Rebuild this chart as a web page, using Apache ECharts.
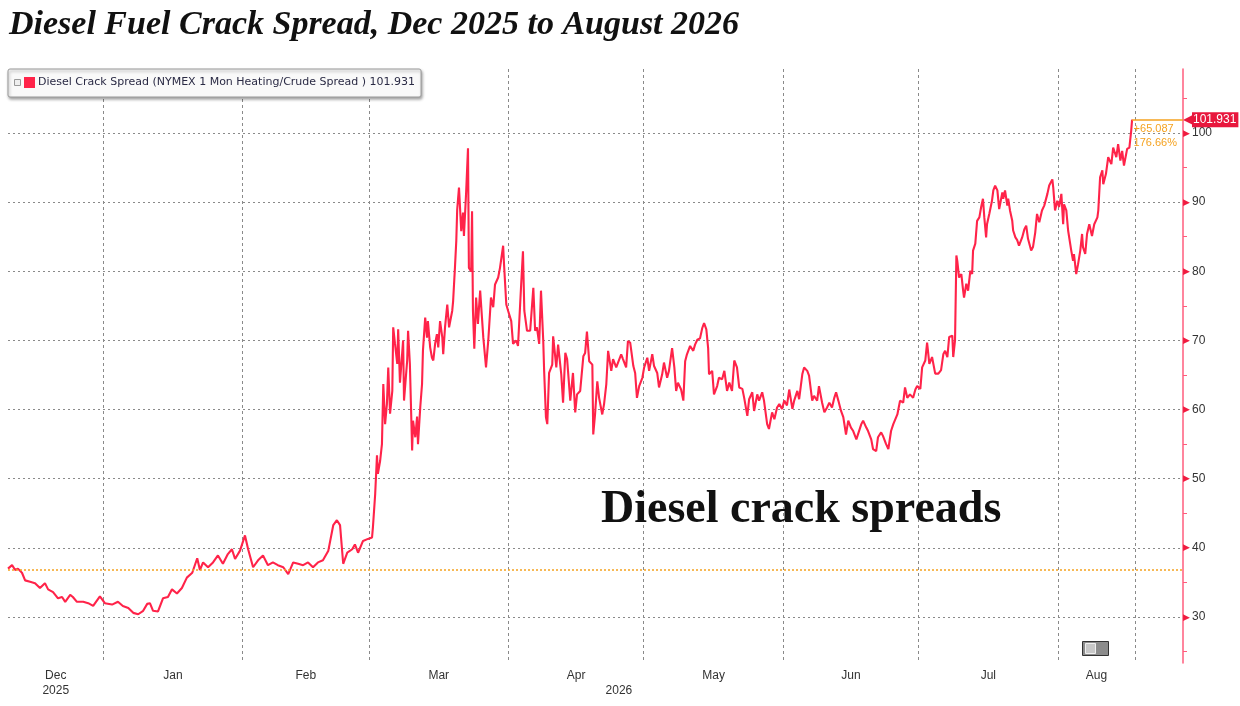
<!DOCTYPE html>
<html>
<head>
<meta charset="utf-8">
<title>Diesel Fuel Crack Spread</title>
<script src="https://cdn.jsdelivr.net/npm/echarts@6.0.0/dist/echarts.min.js"></script>
<style>
    html, body { margin: 0; padding: 0; background: #fff; }
    #main { width: 1240px; height: 706px; }
</style>
</head>
<body>
<div id="main"></div>
<script>
    // days counted from 1 Dec 2025
    var days = [
        9.9, 10.8, 11.5, 12.1, 13.0, 13.7, 14.8, 15.9, 17.0, 18.1, 18.8, 19.9, 21.0, 21.9, 22.6, 23.7, 24.3, 25.2, 26.6, 27.7,
        28.8, 30.3, 31.4, 33.0, 34.3, 35.4, 36.6, 37.7, 38.8, 39.9, 40.8, 41.4, 42.1, 43.2, 44.3, 45.4, 46.3, 47.4, 48.5, 49.6,
        50.8, 51.9, 52.5, 53.2, 54.3, 55.4, 56.5, 57.6, 58.7, 59.6, 60.3, 61.4, 62.5, 63.2, 64.3, 65.4, 66.5, 67.6, 68.7, 69.8,
        71.0, 72.1, 73.2, 74.3, 75.4, 76.5, 77.6, 78.7, 79.8, 81.0, 82.1, 82.9, 83.6, 84.3, 85.2, 86.3, 86.9, 87.6, 88.7, 89.8,
        90.7, 90.9, 91.4, 91.8, 92.0, 92.5, 92.9, 93.2, 93.6, 94.0, 94.3, 94.7, 95.2, 95.4, 95.8, 96.3, 96.5, 96.9, 97.6, 97.8,
        98.5, 98.7, 99.1, 99.6, 99.8, 100.3, 100.7, 100.9, 101.4, 101.8, 102.0, 102.5, 102.9, 103.1, 103.6, 104.0, 104.3, 104.7, 105.1, 105.4,
        105.8, 106.3, 106.5, 106.9, 107.4, 107.8, 108.5, 108.7, 109.1, 109.4, 109.6, 110.0, 110.5, 110.9, 111.1, 111.6, 112.0, 112.2, 112.7, 112.9,
        113.1, 113.4, 113.8, 114.2, 114.7, 115.1, 115.4, 116.0, 116.5, 117.1, 117.6, 118.0, 118.7, 119.1, 119.8, 120.0, 120.5, 120.9, 121.6, 122.0,
        122.7, 123.1, 123.8, 124.2, 124.5, 125.1, 125.8, 126.5, 126.9, 127.3, 127.8, 128.2, 128.7, 128.9, 129.3, 129.6, 130.0, 130.7, 130.9, 131.6,
        132.0, 132.7, 133.1, 133.6, 134.0, 134.7, 135.3, 135.8, 136.2, 136.9, 137.6, 138.0, 138.4, 138.9, 139.6, 139.8, 140.2, 140.7, 141.1, 141.8,
        142.2, 142.7, 143.1, 143.8, 144.2, 144.9, 145.3, 146.0, 146.4, 147.1, 147.5, 148.0, 148.7, 149.1, 149.5, 150.0, 150.7, 151.1, 151.8, 152.2,
        152.9, 153.3, 154.0, 154.4, 155.1, 155.5, 156.2, 156.6, 157.3, 157.8, 158.2, 158.6, 159.3, 159.8, 160.2, 160.6, 161.3, 162.0, 162.4, 162.9,
        163.5, 164.0, 164.4, 164.9, 165.3, 165.5, 166.2, 166.6, 167.3, 167.7, 168.4, 168.9, 169.5, 170.0, 170.6, 171.1, 171.7, 172.2, 172.9, 173.3,
        174.0, 174.4, 175.1, 175.5, 176.2, 176.6, 177.3, 177.7, 178.4, 178.8, 179.5, 180.0, 180.6, 181.1, 181.7, 182.2, 182.8, 183.3, 184.0, 184.4,
        185.1, 185.5, 186.2, 186.6, 187.3, 187.7, 188.4, 188.8, 189.5, 189.9, 190.6, 191.1, 191.7, 192.2, 192.8, 193.3, 193.7, 194.2, 194.8, 195.3,
        195.9, 196.4, 197.0, 197.5, 198.2, 198.6, 199.3, 199.7, 200.4, 200.8, 201.5, 201.9, 202.6, 203.0, 203.7, 204.1, 204.8, 205.3, 205.9, 206.4,
        206.8, 207.3, 207.9, 208.6, 209.0, 209.5, 210.1, 210.8, 211.3, 211.7, 212.4, 212.8, 213.5, 213.9, 214.4, 215.0, 215.7, 216.4, 217.0, 217.5,
        217.9, 218.4, 218.8, 219.5, 219.7, 220.1, 220.4, 220.6, 221.0, 221.5, 221.9, 222.1, 222.6, 223.0, 223.5, 223.9, 224.1, 224.6, 225.0, 225.5,
        225.9, 226.3, 226.6, 227.0, 227.2, 227.7, 228.3, 228.6, 229.0, 229.5, 229.9, 230.6, 230.8, 231.2, 231.7, 231.9, 232.3, 232.8, 233.0, 233.5,
        233.9, 234.3, 235.0, 235.5, 235.9, 236.3, 237.0, 237.4, 237.9, 238.3, 238.8, 239.4, 239.9, 240.6, 241.0, 241.7, 241.9, 242.3, 242.8, 243.2,
        243.7, 244.1, 244.3, 244.8, 245.2, 245.9, 246.3, 246.5, 247.0, 247.4, 247.9, 248.3, 248.5, 249.0, 249.4, 249.9, 250.5, 251.0, 251.7, 251.9,
        252.3, 252.8, 253.0, 253.6, 254.1, 254.8, 255.2, 255.9, 256.3, 256.8, 257.2, 257.6, 258.3, 258.8, 259.2, 259.4
    ];
    var spread = [
        37.0, 37.5, 36.8, 37.0, 36.4, 35.3, 35.1, 34.9, 34.2, 34.9, 34.0, 33.6, 32.7, 32.9, 32.2, 33.2, 32.9, 32.2, 32.2, 32.0,
        31.6, 33.0, 32.0, 31.8, 32.2, 31.6, 31.3, 30.6, 30.4, 30.9, 31.9, 32.0, 30.9, 30.8, 32.7, 32.9, 34.0, 33.4, 34.2, 35.7,
        36.4, 38.5, 36.8, 37.9, 37.2, 37.9, 38.9, 37.7, 39.1, 39.8, 38.4, 39.6, 41.8, 39.8, 37.2, 38.2, 38.9, 37.5, 37.9, 37.5,
        37.2, 36.2, 37.9, 37.7, 37.5, 37.9, 37.2, 37.9, 38.2, 39.6, 43.3, 44.0, 43.3, 37.7, 39.3, 39.8, 40.5, 39.3, 41.0, 41.3,
        41.5, 43.0, 47.8, 53.4, 50.7, 52.6, 55.0, 63.7, 57.9, 60.8, 66.1, 59.4, 62.7, 71.9, 69.5, 66.6, 71.6, 63.9, 70.0, 61.3,
        67.1, 71.4, 66.6, 54.1, 58.4, 56.0, 59.0, 55.0, 60.3, 63.7, 68.5, 73.3, 70.4, 72.8, 69.0, 67.5, 67.1, 69.5, 70.9, 69.0,
        72.8, 70.4, 68.0, 71.9, 75.2, 71.9, 74.3, 75.7, 80.5, 84.4, 88.9, 92.1, 85.8, 88.5, 85.1, 91.6, 97.8, 80.5, 80.0, 88.7,
        74.3, 68.8, 76.2, 72.4, 77.2, 73.3, 70.4, 66.1, 70.0, 76.2, 74.8, 78.1, 79.1, 80.5, 83.7, 81.0, 75.2, 74.3, 72.8, 69.5,
        70.0, 69.2, 78.1, 82.9, 74.3, 71.4, 71.4, 77.6, 71.4, 71.9, 69.5, 77.2, 70.0, 65.6, 58.9, 57.9, 65.3, 66.5, 70.6, 66.1,
        69.4, 65.1, 61.0, 68.2, 67.3, 61.3, 65.3, 59.6, 62.2, 62.7, 67.7, 68.2, 71.3, 67.0, 66.5, 56.4, 59.3, 64.1, 61.7, 59.3,
        60.8, 63.7, 68.5, 65.6, 67.3, 66.1, 66.8, 68.0, 67.3, 66.1, 69.9, 69.7, 66.3, 65.3, 61.7, 63.4, 64.6, 66.1, 67.5, 65.6,
        68.0, 66.3, 65.3, 63.2, 65.1, 66.8, 64.6, 65.6, 68.9, 66.1, 62.7, 63.9, 62.9, 61.3, 67.0, 68.0, 69.2, 68.5, 69.4, 70.1,
        70.3, 71.8, 72.5, 71.6, 68.9, 65.1, 65.6, 62.2, 63.4, 64.6, 64.4, 65.6, 62.7, 63.9, 62.7, 67.1, 66.1, 63.2, 63.0, 61.7,
        59.1, 61.5, 62.5, 59.8, 62.2, 61.3, 62.5, 61.3, 57.9, 57.2, 59.6, 58.6, 60.3, 60.8, 60.1, 61.3, 60.6, 62.9, 60.1, 61.3,
        62.7, 61.5, 65.1, 66.1, 65.6, 64.9, 61.3, 62.0, 61.3, 63.4, 61.0, 59.6, 60.3, 61.0, 60.3, 61.7, 62.5, 61.3, 59.8, 58.9,
        56.4, 58.4, 57.4, 56.9, 55.7, 55.5, 57.9, 58.4, 57.4, 56.9, 55.7, 54.3, 54.0, 56.0, 56.7, 56.2, 55.0, 54.3, 56.9, 57.9,
        57.7, 59.3, 61.3, 61.0, 63.2, 61.7, 62.2, 61.7, 62.9, 63.4, 63.0, 66.1, 67.1, 69.7, 66.6, 67.6, 65.2, 65.2, 65.7, 68.0,
        68.5, 67.6, 70.5, 70.7, 67.6, 70.0, 82.3, 81.5, 79.1, 79.6, 77.2, 76.2, 78.2, 77.2, 80.1, 79.6, 83.0, 84.0, 87.3, 87.8,
        89.3, 90.5, 87.8, 84.9, 86.8, 88.3, 90.2, 91.7, 92.4, 91.7, 89.0, 91.4, 90.5, 91.7, 89.5, 90.5, 88.8, 87.3, 85.9, 84.9,
        84.5, 83.7, 84.9, 86.1, 86.6, 84.7, 83.0, 83.5, 85.6, 88.3, 87.1, 88.8, 89.5, 91.2, 92.4, 93.3, 92.1, 88.8, 90.2, 89.3,
        91.2, 86.8, 89.7, 88.8, 85.9, 83.0, 81.5, 82.5, 79.6, 81.0, 83.0, 85.4, 83.5, 82.5, 85.4, 86.8, 85.1, 86.8, 87.8, 88.8,
        93.6, 94.6, 92.6, 94.1, 96.5, 95.5, 97.9, 96.5, 98.4, 96.0, 97.4, 95.3, 97.7, 97.9, 100.3, 101.931
    ];
    var baseLevel = 36.844;

    var monthLabels = ['Dec', 'Jan', 'Feb', 'Mar', 'Apr', 'May', 'Jun', 'Jul', 'Aug'];
    var monthMid = [20.5, 46.5, 76, 105.5, 136, 166.5, 197, 227.5, 251.5];
    var yearLabels = ['2025', '2026'];
    var yearMid = [20.5, 145.5];
    var xGridDays = [31, 62, 90, 121, 151, 182, 212, 243, 260];
    var yTicks = [30, 40, 50, 60, 70, 80, 90, 100];
    var yMinorTicks = [25, 35, 45, 55, 65, 75, 85, 95, 105];

    var seriesName = 'Diesel Crack Spread (NYMEX 1 Mon Heating/Crude Spread )';
    var titleText = 'Diesel Fuel Crack Spread, Dec 2025 to August 2026';

    var xMin = 9.9, xMax = 270.7;
    var yMin = 23.35, yMax = 109.26;

    var lastDay = days[days.length - 1];
    var last = spread[spread.length - 1];
    var change = last - baseLevel;
    var changePct = (last / baseLevel - 1) * 100;

    var lineRed = '#ff2349';
    var axisRed = '#ff5c7c';
    var orange = '#f5a21f';
    var labelFont = '"Liberation Sans", "DejaVu Sans", sans-serif';

    var myChart = echarts.init(document.getElementById('main'));

    var option = {
        animation: false,
        backgroundColor: '#fff',
        title: {
            text: titleText,
            left: 4,
            top: 3,
            textStyle: {
                fontFamily: '"Liberation Serif", serif',
                fontStyle: 'italic',
                fontWeight: 'bold',
                fontSize: 34,
                color: '#111'
            }
        },
        legend: {
            left: 8,
            top: 69,
            data: [seriesName],
            icon: 'rect',
            itemWidth: 11,
            itemHeight: 11,
            itemGap: 4,
            padding: [8, 6, 9, 16],
            backgroundColor: '#f9f9f9',
            borderColor: '#9a9a9a',
            borderWidth: 1,
            borderRadius: 2,
            shadowBlur: 3,
            shadowColor: 'rgba(0,0,0,0.35)',
            shadowOffsetX: 1,
            shadowOffsetY: 2,
            selectedMode: false,
            textStyle: { color: '#2a2a44', fontSize: 11, fontFamily: '"DejaVu Sans", sans-serif', padding: [0, 0, 0, -2] },
            formatter: function (name) {
                return name + ' ' + last;
            }
        },
        grid: { left: 8, right: 57, top: 69, bottom: 43 },
        xAxis: [
            {
                type: 'value',
                min: xMin,
                max: xMax,
                axisLine: { show: false },
                axisTick: { show: false, customValues: xGridDays },
                splitLine: { show: true, lineStyle: { color: '#8a8a8a', type: [3, 3], width: 1 } },
                axisLabel: {
                    customValues: monthMid,
                    margin: 7,
                    color: '#333',
                    fontSize: 12,
                    fontFamily: labelFont,
                    formatter: function (v) {
                        return monthLabels[monthMid.indexOf(v)];
                    }
                }
            },
            {
                type: 'value',
                position: 'bottom',
                min: xMin,
                max: xMax,
                axisLine: { show: false },
                axisTick: { show: false },
                splitLine: { show: false },
                axisLabel: {
                    customValues: yearMid,
                    margin: 22,
                    color: '#333',
                    fontSize: 12,
                    fontFamily: labelFont,
                    formatter: function (v) {
                        return yearLabels[yearMid.indexOf(v)];
                    }
                }
            }
        ],
        yAxis: [
            {
                type: 'value',
                position: 'right',
                min: yMin,
                max: yMax,
                axisLine: { show: true, lineStyle: { color: axisRed, width: 1.5 } },
                axisTick: { show: false, customValues: yTicks },
                splitLine: { show: true, lineStyle: { color: '#8a8a8a', type: [2, 3], width: 1 } },
                axisLabel: {
                    customValues: yTicks,
                    margin: 0,
                    formatter: function (v) {
                        return '{t|\u25B6}{v|' + v + '}';
                    },
                    rich: {
                        t: { color: '#f01c40', fontSize: 9 },
                        v: { color: '#333', fontSize: 12, fontFamily: labelFont, padding: [0, 0, 0, 2] }
                    }
                }
            },
            {
                type: 'value',
                position: 'right',
                min: yMin,
                max: yMax,
                axisLine: { show: false },
                axisTick: { show: true, customValues: yMinorTicks, length: 4, lineStyle: { color: axisRed } },
                axisLabel: { show: false },
                splitLine: { show: false }
            }
        ],
        series: [
            {
                name: seriesName,
                type: 'line',
                xAxisIndex: 0,
                yAxisIndex: 0,
                data: days.map(function (d, i) { return [d, spread[i]]; }),
                symbol: 'none',
                showSymbol: false,
                clip: false,
                lineStyle: { color: lineRed, width: 2.1 },
                itemStyle: { color: lineRed },
                markLine: {
                    silent: true,
                    symbol: ['none', 'none'],
                    animation: false,
                    data: [
                        {
                            yAxis: baseLevel,
                            lineStyle: { color: orange, type: [2, 2], width: 1.6 },
                            label: { show: false }
                        },
                        [
                            {
                                coord: [lastDay, last],
                                lineStyle: { color: orange, type: 'solid', width: 1.5 },
                                label: {
                                    show: true,
                                    position: 'end',
                                    distance: 0,
                                    formatter: function () {
                                        return '{a|\u25C0}{b|' + last + '}';
                                    },
                                    rich: {
                                        a: { color: '#e8173d', fontSize: 12 },
                                        b: {
                                            color: '#fff',
                                            backgroundColor: '#e8173d',
                                            fontSize: 12,
                                            fontFamily: labelFont,
                                            padding: [2, 2, 1, 1]
                                        }
                                    }
                                }
                            },
                            { coord: [xMax, last] }
                        ]
                    ]
                },
                markPoint: {
                    silent: true,
                    animation: false,
                    data: [
                        {
                            coord: [lastDay, last],
                            symbol: 'rect',
                            symbolSize: 1,
                            itemStyle: { color: 'rgba(0,0,0,0)' },
                            label: {
                                show: true,
                                position: [2, 3],
                                align: 'left',
                                verticalAlign: 'top',
                                color: orange,
                                fontSize: 11,
                                lineHeight: 14,
                                fontFamily: labelFont,
                                formatter: function () {
                                    return '+' + change.toFixed(3) + '\n' + changePct.toFixed(2) + '%';
                                }
                            }
                        }
                    ]
                }
            }
        ],
        graphic: [
            {
                type: 'rect',
                z: 100,
                left: 14,
                top: 79,
                shape: { width: 6, height: 6 },
                style: { fill: '#eee', stroke: '#999', lineWidth: 1 }
            },
            {
                type: 'text',
                z: 100,
                left: 601,
                top: 487,
                style: {
                    text: 'Diesel crack spreads',
                    font: 'bold 46px "Liberation Serif", serif',
                    fill: '#111',
                    shadowBlur: 8,
                    shadowColor: 'rgba(0,0,0,0.55)',
                    shadowOffsetX: 4,
                    shadowOffsetY: 5
                }
            },
            {
                type: 'rect',
                z: 100,
                left: 1082,
                top: 641,
                shape: { width: 26, height: 14 },
                style: { fill: '#8c8c8c', stroke: '#333', lineWidth: 1 }
            },
            {
                type: 'rect',
                z: 101,
                left: 1085,
                top: 643,
                shape: { width: 10, height: 10 },
                style: { fill: '#c8c8c8', stroke: '#eee', lineWidth: 1 }
            }
        ]
    };

    myChart.setOption(option);
</script>
</body>
</html>
